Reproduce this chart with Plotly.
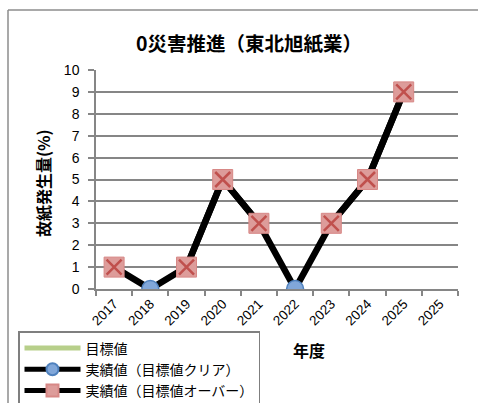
import plotly.graph_objects as go

# ---- data ----
years = ["2017", "2018", "2019", "2020", "2021", "2022", "2023", "2024", "2025", "2025"]
actual = [1, 0, 1, 5, 3, 0, 3, 5, 9, None]
target = [None] * 10
clear_flag = [False, True, False, False, False, True, False, False, False, False]

title_text = "0災害推進（東北旭紙業）"
y_title = "故紙発生量(%)"
x_title = "年度"
name_target = "目標値"
name_clear = "実績値（目標値クリア）"
name_over = "実績値（目標値オーバー）"

xs = list(range(len(years)))
clear_vals = [v if (c and v is not None) else None for v, c in zip(actual, clear_flag)]
over_vals = [v if (not c and v is not None) else None for v, c in zip(actual, clear_flag)]

FONT = "Liberation Sans, Noto Sans CJK JP, sans-serif"
CJK = "Noto Sans CJK JP, sans-serif"

W, H = 478, 403
L, R, T, B = 96, 20, 70, 114
PW, PH = W - L - R, H - T - B

fig = go.Figure()

# target series (no values; legend only)
fig.add_trace(go.Scatter(x=xs, y=target, mode="lines", name=name_target,
                         line=dict(color="#b7cf8a", width=9)))
# main line
fig.add_trace(go.Scatter(x=xs, y=actual, mode="lines", showlegend=False,
                         line=dict(color="black", width=6.5), hoverinfo="skip"))
# clear markers
fig.add_trace(go.Scatter(x=xs, y=clear_vals, mode="lines+markers", name=name_clear,
                         line=dict(color="black", width=6.5),
                         marker=dict(symbol="circle", size=17, color="#81a7d9",
                                     line=dict(color="#4f81bd", width=1.5))))
# over markers
fig.add_trace(go.Scatter(x=xs, y=over_vals, mode="lines+markers", name=name_over,
                         line=dict(color="black", width=6.5),
                         marker=dict(symbol="square", size=20, color="#dd9c9a",
                                     line=dict(color="#d78886", width=1))))
fig.add_trace(go.Scatter(x=xs, y=over_vals, mode="markers", showlegend=False,
                         marker=dict(symbol="x-thin-open", size=15, color="#c0504d",
                                     line=dict(color="#c0504d", width=2.5))))

fig.update_layout(
    width=W, height=H,
    margin=dict(l=L, r=R, t=T, b=B, autoexpand=False),
    paper_bgcolor="white", plot_bgcolor="white",
    font=dict(family=FONT, size=13, color="black"),
    title=dict(text="<b>" + title_text + "</b>", x=249 / W, xanchor="center",
               y=1 - 44 / H, yanchor="middle",
               font=dict(family=CJK, size=19.5, color="black")),
    showlegend=True,
    legend=dict(xref="container", yref="container", x=18 / W, y=1 - 331 / H,
                xanchor="left", yanchor="top", bordercolor="#7f7f7f", borderwidth=1.5,
                bgcolor="white", font=dict(family=CJK, size=14), tracegroupgap=0,
                traceorder="normal", itemsizing="constant", itemwidth=56),
)

fig.update_xaxes(
    range=[-0.5, 9.5], tickmode="array", tickvals=xs, ticktext=years, tickangle=-45,
    ticks="", showgrid=False, zeroline=False,
    showline=True, linecolor="#868686", linewidth=1.5,
    tickfont=dict(family=FONT, size=13.5),
    minor=dict(tickmode="array", tickvals=[i - 0.5 for i in range(len(years) + 1)],
               ticks="outside", ticklen=5, tickcolor="#868686", tickwidth=1.5, showgrid=False),
)
fig.update_yaxes(
    range=[0, 10], dtick=1, tick0=0, ticks="outside", ticklen=6, tickcolor="#868686", tickwidth=1.5,
    showgrid=True, gridcolor="#868686", gridwidth=1.5, zeroline=False,
    showline=True, linecolor="#868686", linewidth=1.5,
    tickfont=dict(family=FONT, size=14), ticklabelstandoff=6,
)

# axis titles
fig.add_annotation(text="<b>" + y_title + "</b>", xref="paper", yref="paper",
                   x=-(L - 43) / PW, y=(289 - 183) / PH, showarrow=False, textangle=-90,
                   font=dict(family=CJK, size=16), xanchor="center", yanchor="middle")
fig.add_annotation(text="<b>" + x_title + "</b>", xref="paper", yref="paper",
                   x=(309 - L) / PW, y=-(350 - 289) / PH, showarrow=False,
                   font=dict(family=CJK, size=16), xanchor="center", yanchor="middle")

# outer chart border (top and left visible)
fig.add_shape(type="line", xref="paper", yref="paper",
              x0=-(L - 8) / PW, x1=(W - L) / PW, y0=1 + (T - 10) / PH, y1=1 + (T - 10) / PH,
              line=dict(color="#8c8c8c", width=1.5))
fig.add_shape(type="line", xref="paper", yref="paper",
              x0=-(L - 8) / PW, x1=-(L - 8) / PW, y0=1 + (T - 10) / PH, y1=-(H - 289) / PH,
              line=dict(color="#8c8c8c", width=1.5))

fig.write_html("out.html", config={"displayModeBar": False},
               post_script="document.body.style.margin='0';document.body.style.overflow='hidden';")
